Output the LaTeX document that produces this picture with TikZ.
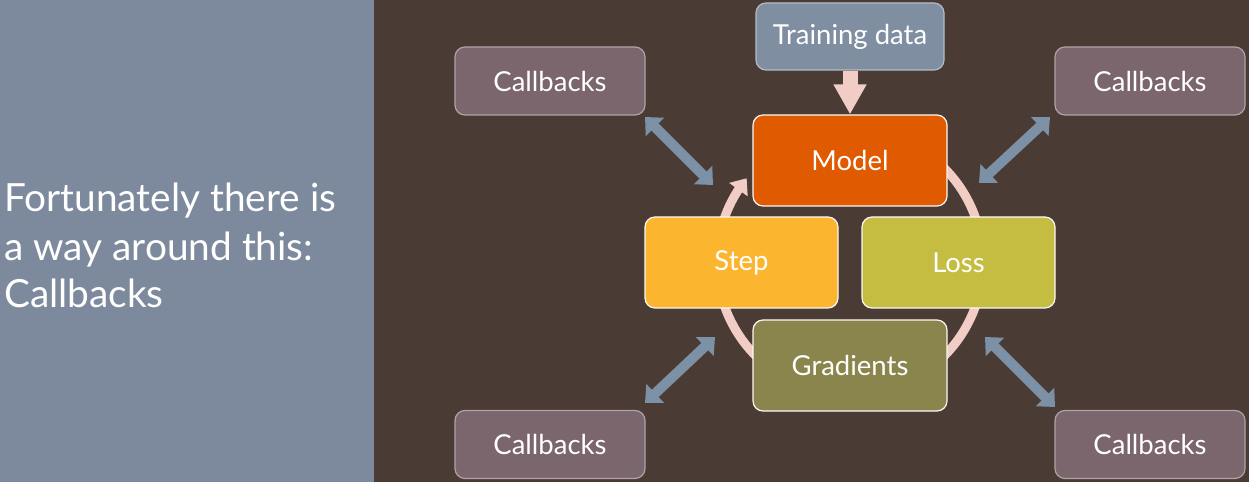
\documentclass[tikz,border=0pt]{standalone}
\usepackage{fontspec}
\setmainfont{Lato}
\usetikzlibrary{arrows.meta,bending}
\definecolor{leftbg}{HTML}{7D899C}
\definecolor{rightbg}{HTML}{4B3B35}
\definecolor{trainc}{HTML}{7F8FA1}
\definecolor{modelc}{HTML}{E05A00}
\definecolor{stepc}{HTML}{FBB52F}
\definecolor{lossc}{HTML}{C4BD41}
\definecolor{gradc}{HTML}{8A854D}
\definecolor{cbc}{HTML}{7A666C}
\definecolor{pinkc}{HTML}{F2CDC6}
\definecolor{bluec}{HTML}{7C90A6}
\tikzset{
  box/.style={rectangle, rounded corners=10pt, inner sep=0pt, line width=1.2pt,
    text=white, font=\fontsize{27.5}{30}\selectfont},
  cycbox/.style={box, minimum width=194pt, minimum height=91pt, draw=white!85!pinkc},
  cbbox/.style={box, fill=cbc, draw=cbc!60!white, minimum width=190pt, minimum height=68pt},
  dbl/.style={bluec, line width=10pt, {Triangle[width=25pt,length=14pt]}-{Triangle[width=25pt,length=14pt]}}
}
\begin{document}
\begin{tikzpicture}[x=1pt,y=1pt]
\useasboundingbox (0,0) rectangle (1249,482);
\fill[leftbg] (0,0) rectangle (374,482);
\fill[rightbg] (374,0) rectangle (1249,482);
\node[anchor=base west, align=left, text=white, inner sep=0pt,
  font=\fontsize{38.8}{48}\selectfont] (title) at (4,174)
  {Fortunately there is\\a way around this:\\Callbacks};
% ring
\coordinate (ctr) at (850,220);
\draw[pinkc, line width=9pt, -{Triangle[width=22pt,length=14pt,flex]}]
  ([shift={(60:133)}]ctr) arc[start angle=60, end angle=-219, radius=133];
% boxes
\node[box, fill=trainc, draw=trainc!60!white, minimum width=188pt, minimum height=67pt] (train) at (850,445.5) {Training data};
\node[cycbox, fill=modelc] (model) at (850,321.5) {Model};
\node[cycbox, fill=stepc, minimum width=193pt] (step) at (741.5,219.5) {Step};
\node[cycbox, fill=lossc, minimum width=193pt] (loss) at (958.5,219.5) {Loss};
\node[cycbox, fill=gradc] (grad) at (850,116.5) {Gradients};
\draw[pinkc, line width=15pt, -{Triangle[width=31pt,length=30pt]}] (train.south) -- (model.north);
\node[cbbox] (cbtl) at (550,401) {Callbacks};
\node[cbbox] (cbtr) at (1150,401) {Callbacks};
\node[cbbox] (cbbl) at (550,37.5) {Callbacks};
\node[cbbox] (cbbr) at (1150,37.5) {Callbacks};
% callback arrows
\coordinate (atl) at (645,365); \coordinate (btl) at (713,297);
\coordinate (atr) at (1050,365); \coordinate (btr) at (979,299);
\coordinate (abl) at (645,79); \coordinate (bbl) at (715,145);
\coordinate (abr) at (1055,75); \coordinate (bbr) at (985,145);
\draw[dbl] (atl) -- (btl);
\draw[dbl] (atr) -- (btr);
\draw[dbl] (abl) -- (bbl);
\draw[dbl] (abr) -- (bbr);
\end{tikzpicture}
\end{document}
